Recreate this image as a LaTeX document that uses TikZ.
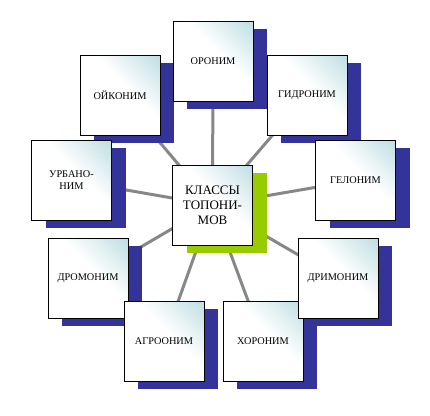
\documentclass[tikz,border=0pt]{standalone}
\usepackage{fontspec}
\setmainfont{Liberation Serif}
\usepackage{tikz}
\usetikzlibrary{shadows,backgrounds}

\definecolor{shadowblue}{HTML}{333399}
\definecolor{shadowgreen}{HTML}{99CC00}
\definecolor{spokegray}{HTML}{878787}
\definecolor{boxtint}{HTML}{BFDEE3}
\pgfdeclarehorizontalshading{cornerfade}{100bp}{color(0bp)=(white); color(56bp)=(white); color(85bp)=(boxtint); color(100bp)=(boxtint)}

\begin{document}
\begin{tikzpicture}[x=1pt, y=-1pt,
    boxbase/.style={draw, fill=white, line width=0.8pt, minimum width=80pt, minimum height=80pt,
        inner sep=1pt, align=center,
        path picture={\shade[shading=cornerfade, shading angle=45]
            (path picture bounding box.south west) rectangle (path picture bounding box.north east);}},
    classbox/.style={boxbase, font=\fontsize{10.3}{12}\selectfont,
        drop shadow={shadow xshift=14pt, shadow yshift=-7.5pt, fill=shadowblue, opacity=1}},
    mainbox/.style={boxbase, font=\fontsize{13}{15}\selectfont,
        drop shadow={shadow xshift=14pt, shadow yshift=-7.5pt, fill=shadowgreen, opacity=1}},
    spoke/.style={spokegray, line width=3pt}]

    \useasboundingbox (0,0) rectangle (430,415);

    % Upper row
    \node[classbox] (oikonim) at (120,95) {ОЙКОНИМ};
    \node[classbox] (oronim) at (213,61) {ОРОНИМ};
    \node[classbox] (gidronim) at (307,95) {ГИДРОНИМ};

    % Middle row
    \node[classbox] (gelonim) at (355.5,180.5) {ГЕЛОНИМ};
    \node[classbox] (urbanonim) at (71.5,180.5) {УРБАНО-\\НИМ};

    % Lower row
    \node[classbox] (dromonim) at (88,278) {ДРОМОНИМ};
    \node[classbox] (agroonim) at (164,341) {АГРООНИМ};
    \node[classbox] (horonim) at (263,341) {ХОРОНИМ};
    \node[classbox] (drimonim) at (338,278) {ДРИМОНИМ};

    % Centre
    \node[mainbox] (classes) at (212.5,205) {КЛАССЫ\\ТОПОНИ-\\МОВ};

    % Spokes
    \begin{scope}[on background layer]
        \foreach \n in {oikonim,oronim,gidronim,gelonim,drimonim,horonim,agroonim,dromonim,urbanonim}
            \draw[spoke] (classes.center) -- (\n.center);
    \end{scope}

\end{tikzpicture}
\end{document}
